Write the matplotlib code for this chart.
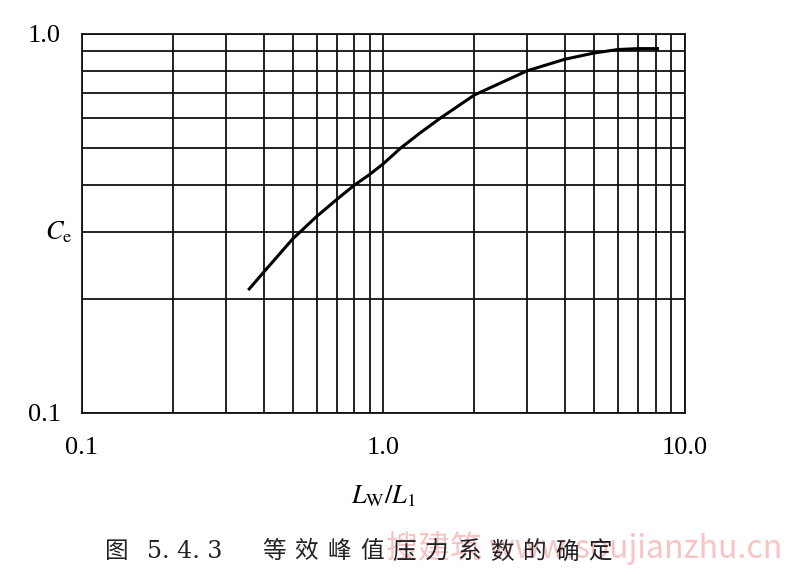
import matplotlib.pyplot as plt
from matplotlib.ticker import FixedLocator, NullFormatter

# curve (Lw/L1 vs Ce)
lw_l1 = [0.356, 0.40, 0.50, 0.60, 0.70, 0.80, 0.90, 1.0, 1.14, 1.33, 1.545, 2.0, 3.0, 4.0, 5.0, 6.0, 7.0, 8.2]
ce = [0.211, 0.235, 0.288, 0.330, 0.366, 0.399, 0.426, 0.455, 0.50, 0.55, 0.60, 0.69, 0.80, 0.858, 0.891, 0.91, 0.915, 0.915]

x_ticks = [0.1, 1.0, 10.0]
x_ticklabels = ["0.1", "1.0", "10.0"]
y_ticks = [0.1, 1.0]
y_ticklabels = ["0.1", "1.0"]

caption_fig = "图"
caption_num = "5. 4. 3"
caption_title = "等效峰值压力系数的确定"
watermark = "搜建筑 www.soujianzhu.cn"

plt.rcParams["font.family"] = ["Liberation Serif", "DejaVu Serif"]
plt.rcParams["mathtext.fontset"] = "stix"

fig = plt.figure(figsize=(8, 5.83), dpi=100)
ax = fig.add_axes([0.1025, 0.2916, 0.7537, 0.6501])
ax.set_xscale("log")
ax.set_yscale("log")
ax.set_xlim(0.1, 10)
ax.set_ylim(0.1, 1.0)

# log grid, every minor step
minor = [m * d for d in (0.1, 1.0) for m in range(1, 10)] + [10.0]
ax.xaxis.set_major_locator(FixedLocator(x_ticks))
ax.xaxis.set_minor_locator(FixedLocator(minor))
ax.yaxis.set_major_locator(FixedLocator(y_ticks))
ax.yaxis.set_minor_locator(FixedLocator([m * 0.1 for m in range(1, 11)]))
ax.xaxis.set_minor_formatter(NullFormatter())
ax.yaxis.set_minor_formatter(NullFormatter())
ax.set_xticklabels(x_ticklabels)
ax.set_yticklabels(y_ticklabels)
ax.grid(True, which="both", color="#111111", lw=1.3)
ax.tick_params(which="both", length=0, labelsize=19)
ax.tick_params(axis="x", pad=17)
ax.tick_params(axis="y", pad=15)
for s in ax.spines.values():
    s.set_color("#111111")
    s.set_linewidth(1.3)

ax.plot(lw_l1, ce, color="black", lw=2.2, solid_capstyle="butt", zorder=3)

ax.text(-0.016, 0.3, "$C_\\mathrm{e}$", transform=ax.get_yaxis_transform(),
        ha="right", va="center", fontsize=19)
ax.set_xlabel("$L_\\mathrm{W}/L_1$", fontsize=19, labelpad=18)

# caption, spaced like the printed figure
fig.text(105 / 800, 1 - 552 / 583, caption_fig, family=["Noto Sans CJK SC"],
         fontsize=17, va="center", ha="left", color="#222222", zorder=5)
fig.text(147 / 800, 1 - 552 / 583, caption_num, family=["DejaVu Serif"],
         fontsize=17, va="center", ha="left", color="#222222", zorder=5)
for i, ch in enumerate(caption_title):
    fig.text((262 + i * 32.6) / 800, 1 - 552 / 583, ch, family=["Noto Sans CJK SC"],
             fontsize=17, va="center", ha="left", color="#222222", zorder=5)
fig.text(386 / 800, 1 - 548 / 583, watermark, family=["Noto Sans CJK SC", "DejaVu Sans"],
         fontsize=23, va="center", ha="left", color="#f5b0b0", alpha=0.75, zorder=1)

fig.savefig("out.png", dpi=100)
